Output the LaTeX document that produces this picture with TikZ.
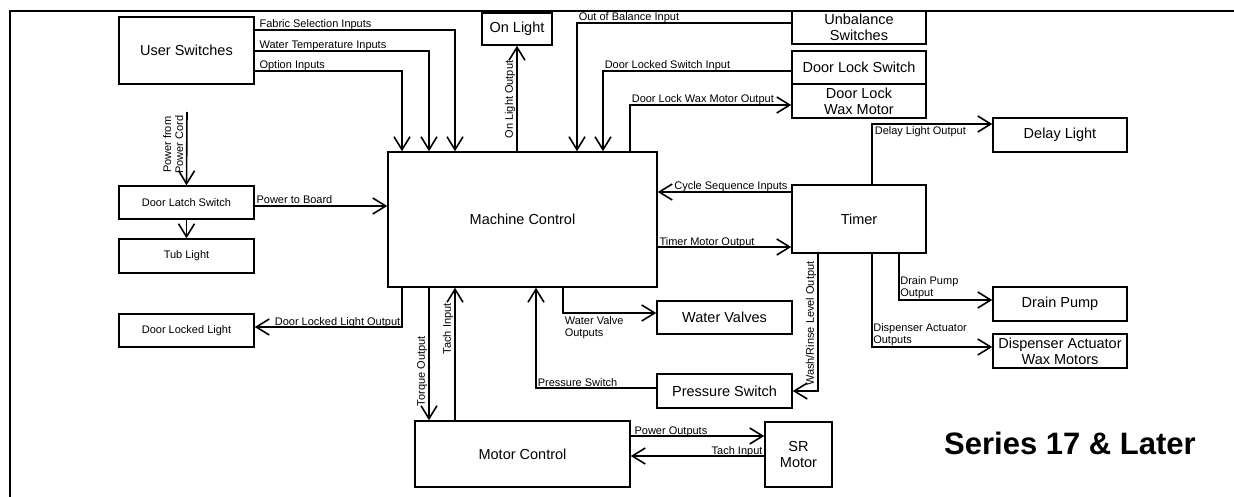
\documentclass[tikz,border=0pt]{standalone}
\usepackage{fontspec}
\setmainfont{Liberation Sans}
\usetikzlibrary{arrows.meta}

\tikzset{
  box/.style={draw, line width=1.5pt, inner sep=0pt, align=center, font=\fontsize{14.5}{16}\selectfont},
  smallbox/.style={box, font=\fontsize{11}{13}\selectfont},
  lbl/.style={font=\fontsize{11}{12}\selectfont, inner sep=1pt},
  tagl/.style={lbl, anchor=base west, yshift=2pt},
  tagr/.style={lbl, anchor=base east, yshift=2pt},
  arr/.style={line width=1.6pt, -{Straight Barb[length=13pt,width=16pt]}},
}

\begin{document}
\begin{tikzpicture}[x=1pt,y=-1pt]
    \useasboundingbox (0,0) rectangle (1234,497);
    \draw[line width=2.6pt] (10,497) |- (1234,11);
    % boxes
    \node[box, minimum width=135pt, minimum height=67pt] (us) at (186.5,50.5) {User Switches};
    \node[box, minimum width=70pt, minimum height=32pt] (onl) at (517,29) {On Light};
    \node[box, minimum width=269pt, minimum height=135pt] (mc) at (522.5,219.5) {Machine Control};
    \node[box, minimum width=134pt, minimum height=33pt] (unb) at (859,27.5) {Unbalance\\Switches};
    \node[box, minimum width=134pt, minimum height=33pt] (dls) at (859,67.5) {Door Lock Switch};
    \node[box, minimum width=134pt, minimum height=34pt] (dlw) at (859,101) {Door Lock\\Wax Motor};
    \node[box, minimum width=134pt, minimum height=34pt] (dl) at (1060,135) {Delay Light};
    \node[box, minimum width=134pt, minimum height=68pt] (tmr) at (859,219) {Timer};
    \node[smallbox, minimum width=135pt, minimum height=33pt] (dlatch) at (186.5,202.5) {Door Latch Switch};
    \node[smallbox, minimum width=135pt, minimum height=34pt] (tub) at (186.5,256) {Tub Light};
    \node[smallbox, minimum width=135pt, minimum height=33pt] (dll) at (186.5,330.5) {Door Locked Light};
    \node[box, minimum width=135pt, minimum height=33pt] (wv) at (724.5,317.5) {Water Valves};
    \node[box, minimum width=135pt, minimum height=34pt] (ps) at (724.5,391) {Pressure Switch};
    \node[box, minimum width=134pt, minimum height=34pt] (dp) at (1060,304) {Drain Pump};
    \node[box, minimum width=134pt, minimum height=34pt] (da) at (1060,351) {Dispenser Actuator\\Wax Motors};
    \node[box, minimum width=215pt, minimum height=66pt] (mctl) at (522.5,454) {Motor Control};
    \node[box, minimum width=67pt, minimum height=65pt] (sr) at (798.5,454.5) {SR\\Motor};
    \node[font=\fontsize{31}{34}\selectfont\bfseries] (series) at (1070,443) {Series 17 \& Later};
    % user switches
    \draw[arr] (us.east |- 0,30) -| node[tagl, pos=0, xshift=3pt] (lfab) {Fabric Selection Inputs} (mc.north -| 455,0);
    \draw[arr] (us.east |- 0,51) -| node[tagl, pos=0, xshift=3pt] (lwtemp) {Water Temperature Inputs} (mc.north -| 429,0);
    \draw[arr] (us.east |- 0,71) -| node[tagl, pos=0, xshift=3pt] (lopt) {Option Inputs} (mc.north -| 402,0);
    % top side
    \draw[arr] (mc.north -| onl.south) -- node[lbl, rotate=90, anchor=south, pos=.49] (lonl) {On Light Output} (onl.south);
    \draw[arr] (unb.west |- 0,23) -| node[tagl, pos=.5] (loob) {Out of Balance Input} (mc.north -| 577,0);
    \draw[arr] (dls.west |- 0,71) -| node[tagl, pos=.5] (ldls) {Door Locked Switch Input} (mc.north -| 603,0);
    \draw[arr] (mc.north -| 630,0) |- node[tagl, pos=.5] (ldlw) {Door Lock Wax Motor Output} (dlw.west |- 0,105);
    % timer
    \draw[arr] (tmr.north -| 872,0) |- node[lbl, pos=.5, anchor=north west, xshift=1pt, yshift=-1pt] (ldl) {Delay Light Output} (dl.west |- 0,124);
    \draw[arr] (tmr.west |- 0,192) -- node[tagr, pos=0, xshift=-2pt] (lcyc) {Cycle Sequence Inputs} (mc.east |- 0,192);
    \draw[arr] (mc.east |- 0,247) -- node[tagl, pos=0] (ltmo) {Timer Motor Output} (tmr.west |- 0,247);
    \draw[arr] (tmr.south -| 818,0) |- node[lbl, rotate=90, anchor=south, pos=.255] (lwash) {Wash/Rinse Level Output} (ps.east);
    \draw[arr] (tmr.south -| 899,0) |- node[lbl, pos=.5, anchor=south west, align=left, inner sep=.5pt] (ldp) {Drain Pump\\Output} (dp.west |- 0,300);
    \draw[arr] (tmr.south -| 872,0) |- node[lbl, pos=.5, anchor=south west, align=left, inner sep=.5pt] (lda) {Dispenser Actuator\\Outputs} (da.west |- 0,347);
    % bottom side
    \draw[arr] (mc.south -| 563,0) |- node[lbl, pos=.5, anchor=north west, align=left, yshift=-2pt] (lwv) {Water Valve\\Outputs} (wv.west |- 0,313);
    \draw[arr] (ps.west |- 0,388) -| node[tagl, pos=.5] (lps) {Pressure Switch} (mc.south -| 536,0);
    \draw[arr] (mc.south -| 402,0) |- node[tagr, pos=.5] (ldll) {Door Locked Light Output} (dll.east |- 0,327);
    % power
    \coordinate (cord) at (187,112);
    \draw[arr] (cord) -- node[lbl, rotate=90, anchor=south east, pos=0, align=center, inner sep=3pt] (lcord) {Power from\\Power Cord} (dlatch.north);
    \draw[arr] (dlatch.east |- 0,206) -- node[tagl, pos=0] (lpwr) {Power to Board} (mc.west |- 0,206);
    \draw[arr] (dlatch.south) -- (tub.north);
    % motor
    \draw[arr] (mc.south -| 429,0) -- node[lbl, rotate=90, anchor=south, pos=.63] (ltorq) {Torque Output} (mctl.north -| 429,0);
    \draw[arr] (mctl.north -| 455,0) -- node[lbl, rotate=90, anchor=south, pos=.69] (ltach) {Tach Input} (mc.south -| 455,0);
    \draw[arr] (mctl.east |- 0,436) -- node[tagl, pos=0, xshift=2pt] (lpo) {Power Outputs} (sr.west |- 0,436);
    \draw[arr] (sr.west |- 0,456) -- node[tagr, pos=0] (ltach2) {Tach Input} (mctl.east |- 0,456);
\end{tikzpicture}
\end{document}
